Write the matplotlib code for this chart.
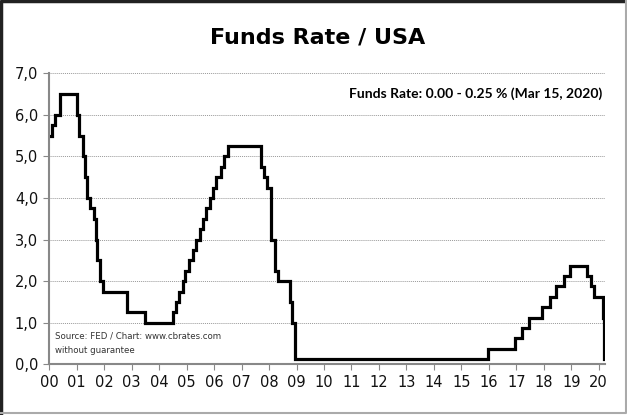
import pandas as pd
import matplotlib.pyplot as plt
from matplotlib.lines import Line2D

# FED target rate changes (midpoint of range after 2008)
dates = ["2000-01-01", "2000-02-02", "2000-03-21", "2000-05-16", "2001-01-03", "2001-01-31",
         "2001-03-20", "2001-04-18", "2001-05-15", "2001-06-27", "2001-08-21", "2001-09-17",
         "2001-10-02", "2001-11-06", "2001-12-11", "2002-11-06", "2003-06-25", "2004-06-30",
         "2004-08-10", "2004-09-21", "2004-11-10", "2004-12-14", "2005-02-02", "2005-03-22",
         "2005-05-03", "2005-06-30", "2005-08-09", "2005-09-20", "2005-11-01", "2005-12-13",
         "2006-01-31", "2006-03-28", "2006-05-10", "2006-06-29", "2007-09-18", "2007-10-31",
         "2007-12-11", "2008-01-22", "2008-01-30", "2008-03-18", "2008-04-30", "2008-10-08",
         "2008-10-29", "2008-12-16", "2015-12-16", "2016-12-14", "2017-03-15", "2017-06-14",
         "2017-12-13", "2018-03-21", "2018-06-13", "2018-09-26", "2018-12-19", "2019-07-31",
         "2019-09-18", "2019-10-30", "2020-03-03", "2020-03-15", "2020-03-16"]
rates = [5.5, 5.75, 6.0, 6.5, 6.0, 5.5,
         5.0, 4.5, 4.0, 3.75, 3.5, 3.0,
         2.5, 2.0, 1.75, 1.25, 1.0, 1.25,
         1.5, 1.75, 2.0, 2.25, 2.5, 2.75,
         3.0, 3.25, 3.5, 3.75, 4.0, 4.25,
         4.5, 4.75, 5.0, 5.25, 4.75, 4.5,
         4.25, 3.5, 3.0, 2.25, 2.0, 1.5,
         1.0, 0.125, 0.375, 0.625, 0.875, 1.125,
         1.375, 1.625, 1.875, 2.125, 2.375, 2.125,
         1.875, 1.625, 1.125, 0.125, 0.125]

year_labels = ["%02d" % y for y in range(21)]
y_labels = ["%d,0" % v for v in range(8)]

d = pd.to_datetime(pd.Series(dates))
x = (d.dt.year - 2000) + (d.dt.dayofyear - 1) / 365.25

fig = plt.figure(figsize=(6.27, 4.15), dpi=100)
ax = fig.add_axes([0.0786, 0.1222, 0.8864, 0.7012])

ax.step(x, rates, where="post", color="black", lw=2.3, solid_joinstyle="miter")

ax.set_xlim(0, 20.23)
ax.set_ylim(0, 7)
ax.set_xticks(range(21))
ax.set_xticklabels(year_labels)
ax.set_yticks(range(8))
ax.set_yticklabels(y_labels)
ax.tick_params(axis="both", direction="out", length=4, color="#888888", labelsize=10.5,
               labelcolor="#111111")
ax.tick_params(axis="x", pad=4)
ax.tick_params(axis="y", pad=4)
for s in ["top", "right"]:
    ax.spines[s].set_visible(False)
for s in ["left", "bottom"]:
    ax.spines[s].set_color("#888888")
    ax.spines[s].set_linewidth(1.5)
ax.yaxis.grid(True, linestyle=(0, (1, 1)), color="#999999", lw=0.7)
ax.set_axisbelow(True)

fig.text(0.507, 0.91, "Funds Rate / USA", ha="center", va="center",
         fontsize=16, fontweight="bold")
ax.text(0.995, 0.93, "Funds Rate: 0.00 - 0.25 % (Mar 15, 2020)", transform=ax.transAxes,
        ha="right", va="center", fontsize=10, fontweight="bold", family="Lato")
ax.text(0.01, 0.072, "Source: FED / Chart: www.cbrates.com\nwithout guarantee",
        transform=ax.transAxes, ha="left", va="center", fontsize=6.2, color="#333333",
        linespacing=1.75)

# picture frame
fig.add_artist(Line2D([0.002, 0.002, 0.998], [0.0, 0.998, 0.998], transform=fig.transFigure,
                      color="#222222", lw=2.5))
fig.add_artist(Line2D([0.998, 0.998, 0.0], [0.998, 0.004, 0.004], transform=fig.transFigure,
                      color="#aaaaaa", lw=1.5))

fig.savefig("out.png", dpi=100)
